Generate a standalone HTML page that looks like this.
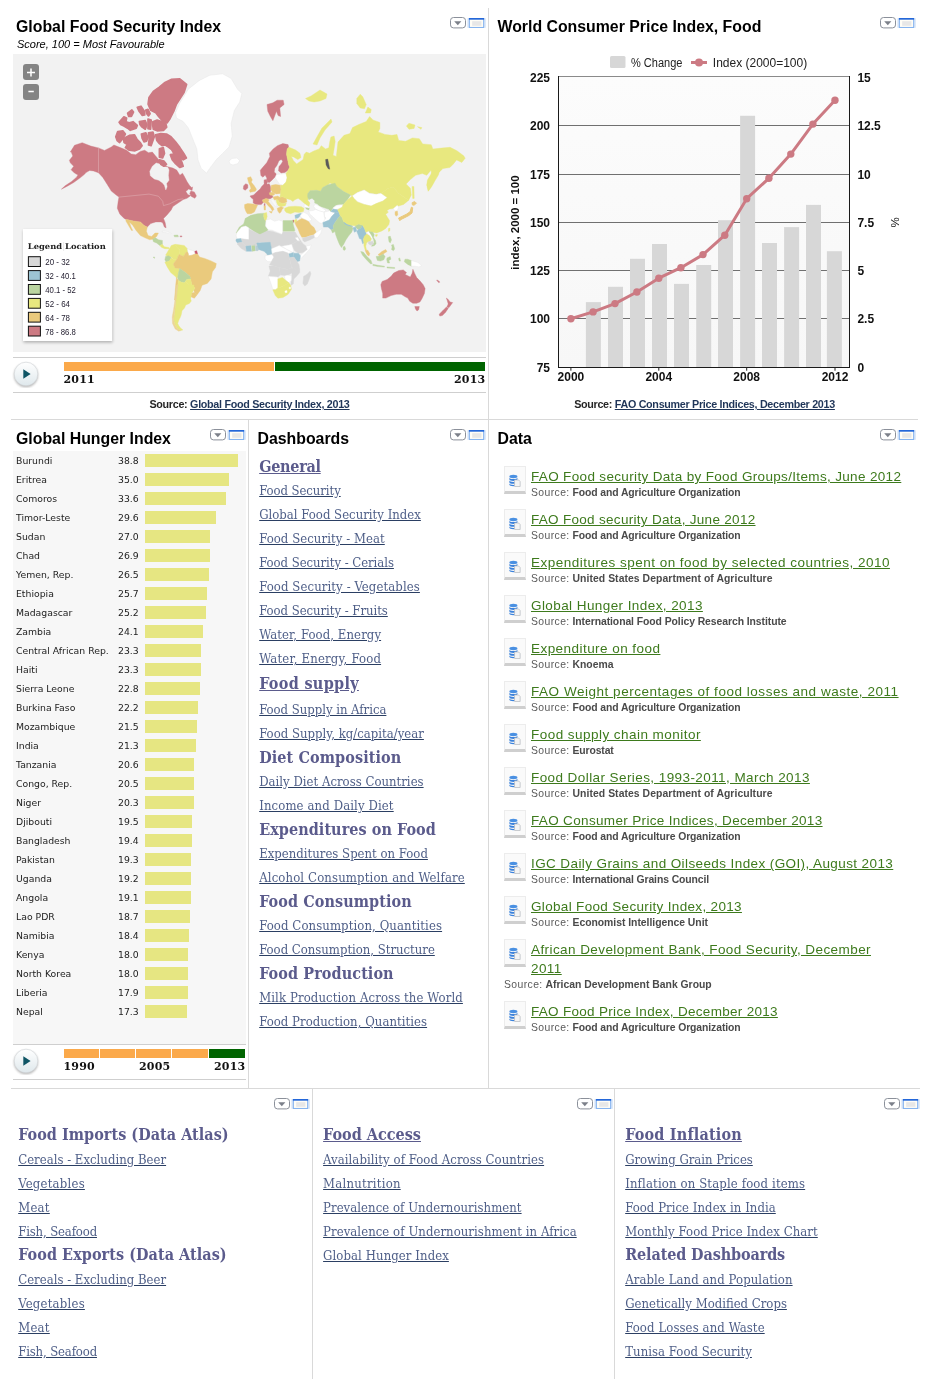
<!DOCTYPE html>
<html lang="en">
<head>
<meta charset="utf-8">
<title>Food Security</title>
<style>
html,body{margin:0;padding:0;background:#fff;}
body{width:935px;height:1379px;position:relative;overflow:hidden;font-family:"Liberation Sans",sans-serif;color:#000;}
.abs{position:absolute;}
.hl{position:absolute;height:1px;background:#d9d9d9;}
.vl{position:absolute;width:1px;background:#d9d9d9;}
.title{position:absolute;font:bold 15.85px "Liberation Sans",sans-serif;color:#000;white-space:nowrap;line-height:18px;}
.sub{position:absolute;font:italic 11px "Liberation Sans",sans-serif;white-space:nowrap;line-height:12px;}
.ico{position:absolute;width:37px;height:12px;}
.src{position:absolute;font:bold 10.75px "Liberation Sans",sans-serif;letter-spacing:-0.3px;color:#262626;white-space:nowrap;text-align:center;line-height:13px;}
.src a{color:#1f3558;text-decoration:underline;}
.play{position:absolute;width:24px;height:24px;}
.yr{position:absolute;font:bold 11px "DejaVu Serif",serif;color:#111;line-height:12px;white-space:nowrap;letter-spacing:0.2px;}
a{cursor:pointer;}
/* serif link lists */
.lst{position:absolute;font:13px "DejaVu Serif Condensed","DejaVu Serif",serif;font-stretch:condensed;color:#4b5a7e;word-spacing:0;}
.lst a{display:block;position:absolute;left:0;color:#4f5f88;text-decoration:underline;text-decoration-color:#2b3f63;text-underline-offset:1px;white-space:nowrap;line-height:16px;}
.lst .h{display:block;position:absolute;left:0;font:bold 16px "DejaVu Serif Condensed","DejaVu Serif",serif;font-stretch:condensed;color:#5b5b8c;white-space:nowrap;line-height:20px;word-spacing:0;}
.lst .h.u{text-decoration:underline;}
/* hunger rows */
.hrow{position:absolute;left:16px;height:19px;width:230px;font:9.3px "DejaVu Sans",sans-serif;color:#222;line-height:19px;white-space:nowrap;}
.hrow i{font-style:normal;position:absolute;left:102px;}
.hrow b{position:absolute;left:129px;top:3px;height:13px;background:#e6e682;}
/* data list */
.ditem{position:absolute;left:504px;width:410px;}
.ditem .bx{position:absolute;left:0;top:0;width:20px;height:24px;background:#fafafa;border:1px solid #ececec;border-bottom:3px solid #cfcfcf;}
.ditem a{position:absolute;left:27px;top:1px;font:13.5px "Liberation Sans",sans-serif;letter-spacing:0.34px;color:#3d7a1c;text-decoration:underline;white-space:nowrap;line-height:19px;}
.ditem span{position:absolute;left:27px;top:21px;font:10.4px "Liberation Sans",sans-serif;color:#555;white-space:nowrap;line-height:12px;}
.ditem span b{color:#4a4a4a;letter-spacing:-0.09px;}
.ditem span i{font-style:normal;letter-spacing:0.4px;color:#5a5a5a;}
</style>
</head>
<body>
<svg width="0" height="0" style="position:absolute"><defs>
<linearGradient id="pg" x1="0" y1="0" x2="0" y2="1"><stop offset="0" stop-color="#ffffff"/><stop offset="1" stop-color="#dfe8ec"/></linearGradient>
<filter id="psh" x="-30%" y="-30%" width="160%" height="160%"><feGaussianBlur stdDeviation="0.9"/></filter>
</defs></svg>
<!-- structural lines -->
<div class="vl" style="left:488px;top:8px;height:1080px;"></div>
<div class="vl" style="left:248px;top:420px;height:668px;"></div>
<div class="hl" style="left:11px;top:419px;width:907px;"></div>
<div class="hl" style="left:11px;top:1088px;width:909px;"></div>
<div class="vl" style="left:312px;top:1089px;height:290px;"></div>
<div class="vl" style="left:614px;top:1089px;height:290px;"></div>
<!-- Global Food Security Index panel -->
<div class="title" style="left:16px;top:18px;">Global Food Security Index</div>
<div class="sub" style="left:17px;top:38px;">Score, 100 = Most Favourable</div>
<svg class="ico" style="left:450px;top:17px;" viewBox="0 0 37 12"><rect x="0.5" y="0.5" width="15" height="10.4" rx="3" ry="3" fill="#fff" stroke="#8b909a" stroke-width="1"/><path d="M4.2 4.2 L11.4 4.2 L7.8 8.2 Z" fill="#7c808a"/><rect x="17.3" y="1.2" width="18.6" height="9.6" fill="#cfe0f7" opacity="0.75"/><rect x="19.3" y="1.5" width="14.400" height="8.9" fill="#fffdf6" stroke="#74a9ee" stroke-width="0.9"/><rect x="18.9" y="1" width="15.2" height="1.7" fill="#2467d9"/><rect x="22.2" y="4.2" width="9.2" height="4.6" fill="#e7e7e7"/></svg>
<div class="abs" id="mapbg" style="left:13px;top:54px;width:473px;height:298px;background:#f2f2f2;"></div>
<!--MAPSTART-->
<svg class="abs" style="left:13px;top:54px;" width="473" height="298" viewBox="13 54 473 298">
<g stroke-linejoin="round">
<polygon points="70.3,152.1 74.5,145.3 82.2,142.7 90.8,146.1 98.5,147.9 104.5,150.4 111.3,147.0 113.9,145.0 120.3,147.6 126.7,150.2 131.2,154.0 135.7,154.7 140.2,151.4 144.7,150.2 148.5,152.7 152.4,152.1 155.6,155.9 158.8,159.8 161.3,163.6 167.8,166.8 172.9,168.1 176.7,170.1 179.9,175.2 182.5,173.3 184.4,176.5 187.0,181.6 189.6,185.5 192.1,188.0 192.6,186.8 192.1,190.4 188.7,189.0 185.8,191.6 188.0,194.8 190.9,195.5 187.0,198.3 183.2,199.6 178.1,203.0 172.9,206.5 171.2,209.9 167.0,215.0 163.5,218.4 165.2,222.7 166.1,227.9 164.4,227.0 162.7,222.7 161.0,221.9 155.8,221.9 150.7,223.6 147.3,227.0 143.9,225.3 140.4,221.9 133.6,221.0 125.9,219.3 124.2,218.4 119.9,214.2 117.3,208.2 118.2,201.3 119.0,197.1 116.5,195.3 111.3,191.1 107.1,184.2 102.8,177.4 98.5,172.8 93.4,170.9 89.6,170.5 86.0,172.6 84.5,174.3 80.5,177.6 73.7,182.5 66.8,186.4 61.4,189.2 65.1,185.8 71.6,181.5 76.3,177.4 78.0,175.0 74.5,173.1 71.1,169.7 73.7,166.3 70.3,162.8 69.4,160.3 72.8,156.0 71.1,151.7" fill="#cd7a83" stroke="#cd7a83" stroke-width="0.4"/>
<polygon points="190.9,191.1 194.3,191.9 196.4,195.9 194.8,198.3 191.4,196.5 189.7,193.5" fill="#cd7a83" stroke="#cd7a83" stroke-width="0.4"/>
<polygon points="152.4,166.2 156.2,163.0 160.7,164.3 163.9,166.8 167.8,167.2 169.0,170.1 168.4,175.2 169.0,180.3 166.5,183.5 167.1,186.7 165.8,189.9 164.5,185.5 162.6,182.9 158.8,180.3 154.3,179.0 150.4,175.8 149.8,171.3" fill="#f2f2f2" stroke="#f2f2f2" stroke-width="0.4"/>
<polygon points="164.4,82.8 171.2,79.4 179.8,78.9 186.6,84.5 184.1,92.2 179.8,99.1 176.4,104.2 173.8,111.1 169.5,119.6 167.0,123.0 162.7,121.3 158.4,116.2 155.8,112.8 150.7,110.2 148.1,104.2 149.0,97.4 153.3,91.4 159.3,87.1" fill="#cd7a83" stroke="#cd7a83" stroke-width="1.7"/>
<polygon points="115.8,136.7 117.7,131.6 122.8,130.9 125.4,134.1 122.8,138.6 119.6,142.5 117.1,140.5" fill="#cd7a83" stroke="#cd7a83" stroke-width="1.7"/>
<polygon points="123.5,138.6 129.3,135.4 134.4,134.8 137.0,139.3 140.2,142.5 142.1,145.7 139.5,148.9 135.0,150.8 129.3,150.2 125.4,147.6 127.3,144.4 124.1,142.5" fill="#cd7a83" stroke="#cd7a83" stroke-width="1.7"/>
<polygon points="141.4,134.1 145.9,132.8 147.9,137.3 146.6,141.2 144.0,141.8 142.1,138.0" fill="#cd7a83" stroke="#cd7a83" stroke-width="1.7"/>
<polygon points="148.5,132.8 153.0,132.2 154.3,136.7 151.1,145.7 148.5,145.0 149.1,139.3" fill="#cd7a83" stroke="#cd7a83" stroke-width="1.7"/>
<polygon points="155.6,134.8 160.7,133.5 166.5,134.1 171.0,136.7 175.5,141.8 179.9,147.6 183.8,153.4 186.4,157.9 183.2,159.8 179.3,156.6 181.9,162.4 183.2,166.2 179.9,167.5 175.5,163.6 172.2,159.8 170.3,154.7 174.2,154.0 171.6,149.5 168.4,147.0 165.2,145.0 162.0,145.7 159.4,143.7 156.8,140.5" fill="#cd7a83" stroke="#cd7a83" stroke-width="1.7"/>
<polygon points="159.4,159.8 163.9,161.1 166.5,164.3 163.9,166.2 160.7,164.3" fill="#cd7a83" stroke="#cd7a83" stroke-width="1.7"/>
<polygon points="159.4,148.9 163.3,147.6 164.5,153.4 162.6,157.9 159.4,157.2" fill="#cd7a83" stroke="#cd7a83" stroke-width="1.7"/>
<polygon points="137.3,107.3 141.0,106.2 144.2,111.0 144.8,114.8 142.1,115.3 138.9,111.0" fill="#cd7a83" stroke="#cd7a83" stroke-width="1.7"/>
<polygon points="145.8,110.0 148.0,109.4 150.1,113.7 148.5,115.9 146.4,113.2" fill="#cd7a83" stroke="#cd7a83" stroke-width="1.7"/>
<polygon points="127.6,113.2 131.9,110.0 133.5,112.1 131.4,116.4 128.7,116.4" fill="#cd7a83" stroke="#cd7a83" stroke-width="1.7"/>
<polygon points="119.1,122.3 123.9,116.9 126.6,118.0 126.0,121.7 129.3,122.8 133.0,121.7 137.3,125.5 136.2,128.2 130.3,130.3 127.6,128.2 123.9,126.0 120.7,124.4" fill="#cd7a83" stroke="#cd7a83" stroke-width="1.7"/>
<polygon points="139.4,121.7 145.3,120.7 146.9,124.9 145.3,129.2 142.1,127.1 139.9,124.4" fill="#cd7a83" stroke="#cd7a83" stroke-width="1.7"/>
<polygon points="148.0,119.1 151.2,120.1 150.6,129.2 148.0,128.7" fill="#cd7a83" stroke="#cd7a83" stroke-width="1.7"/>
<polygon points="152.8,121.7 157.1,120.1 165.6,122.8 166.7,127.1 163.5,130.3 157.1,130.8 153.3,129.2 152.6,124.9" fill="#cd7a83" stroke="#cd7a83" stroke-width="1.7"/>
<polygon points="175.5,112.8 179.8,103.1 188.3,89.2 199.0,80.7 209.7,75.3 222.6,73.8 231.1,78.5 237.5,89.2 241.8,93.5 239.7,102.1 234.3,110.6 231.1,123.4 232.2,136.3 229.0,147.0 222.6,153.4 216.1,159.8 209.7,168.4 206.5,173.1 201.2,168.4 198.0,159.8 196.9,149.1 192.6,138.4 188.3,127.7 183.0,121.3 176.6,118.1" fill="#ffffff" stroke="#e4e4e4" stroke-width="0.4"/>
<polygon points="229.0,161.0 232.0,158.5 237.0,158.0 239.5,160.5 238.0,163.5 233.0,165.0 230.0,164.0" fill="#ffffff" stroke="#e4e4e4" stroke-width="0.4"/>
<polygon points="267.0,104.5 272.9,102.8 277.2,100.2 283.2,100.2 284.1,104.5 279.8,107.9 280.6,116.5 278.1,115.6 276.4,111.3 272.9,120.7 270.4,116.5 267.8,111.3" fill="#cd7a83" stroke="#cd7a83" stroke-width="0.4"/>
<polygon points="125.9,219.3 133.6,221.0 140.4,221.9 143.9,225.3 147.3,227.0 146.4,231.3 148.1,235.6 151.6,236.4 155.0,233.0 158.4,233.0 156.7,236.4 153.3,239.0 149.8,239.8 145.6,238.1 140.4,235.6 136.1,230.4 132.7,225.3 129.3,221.9 131.0,227.0 132.7,230.4 131.5,230.4 128.4,225.3 125.9,221.0" fill="#eaca7d" stroke="#eaca7d" stroke-width="0.4"/>
<polygon points="152.7,239.1 155.3,237.8 158.5,239.8 162.4,240.4 162.4,244.3 159.8,245.5 156.6,243.0 153.4,241.7" fill="#bbd5a0" stroke="#bbd5a0" stroke-width="0.4"/>
<polygon points="159.8,245.5 162.4,244.3 164.3,246.8 168.8,247.5 169.4,248.7 164.9,248.7 161.7,247.5" fill="#e8e87f" stroke="#e8e87f" stroke-width="0.4"/>
<polygon points="173.9,235.3 177.8,235.0 178.4,236.8 174.5,236.8" fill="#bbd5a0" stroke="#bbd5a0" stroke-width="0.4"/>
<polygon points="180.1,235.9 181.9,235.9 181.9,236.8 180.1,236.8" fill="#cd7a83" stroke="#cd7a83" stroke-width="0.4"/>
<polygon points="162.4,230.8 167.5,231.4 171.3,233.3 170.7,234.0 166.2,232.7 162.4,232.1" fill="#f9f9f9" stroke="#e6e6e6" stroke-width="0.4"/>
<polygon points="169.4,248.7 171.3,245.5 175.2,244.3 177.1,247.5 179.7,250.0 179.0,254.5 177.1,259.0 173.9,259.7 171.3,257.1 168.1,256.4 165.6,255.2 167.5,252.0" fill="#e8e87f" stroke="#e8e87f" stroke-width="0.4"/>
<polygon points="175.2,244.3 180.3,244.9 184.2,245.5 187.4,248.7 188.0,252.6 186.1,252.0 183.5,256.4 181.0,255.2 179.0,254.5 179.7,250.0 177.1,247.5" fill="#e8e87f" stroke="#e8e87f" stroke-width="0.4"/>
<polygon points="187.4,248.7 189.9,250.0 193.8,250.7 195.1,253.9 191.9,255.2 188.7,255.8 188.0,252.6" fill="#ffffff" stroke="#e4e4e4" stroke-width="0.4"/>
<polygon points="194.8,251.3 196.7,250.7 197.6,253.9 195.7,254.5" fill="#c8566a" stroke="#c8566a" stroke-width="0.4"/>
<polygon points="165.6,256.4 168.8,255.8 171.3,257.7 169.4,260.9 166.2,262.2 164.9,259.7" fill="#bbd5a0" stroke="#bbd5a0" stroke-width="0.4"/>
<polygon points="164.9,262.2 169.4,260.9 171.3,257.7 173.9,259.7 177.1,259.0 173.3,264.1 175.2,268.0 179.7,268.6 178.4,273.1 177.8,277.6 176.5,277.9 175.2,276.3 170.7,272.5 167.5,267.4" fill="#e8e87f" stroke="#e8e87f" stroke-width="0.4"/>
<polygon points="177.1,259.0 179.0,254.5 183.5,256.4 186.1,252.0 188.0,252.6 188.7,255.8 191.9,255.2 195.1,253.9 197.6,253.9 199.6,257.1 204.7,258.4 211.1,260.9 216.3,263.5 215.6,267.4 212.4,271.8 211.1,278.9 207.3,283.4 202.1,285.3 200.2,290.5 197.0,294.9 194.4,292.4 193.8,289.8 195.1,287.9 191.9,285.3 190.6,278.9 189.9,276.3 185.5,272.5 179.7,268.6 175.2,268.0 173.3,264.1" fill="#eaca7d" stroke="#eaca7d" stroke-width="0.4"/>
<polygon points="178.4,273.1 179.7,268.6 185.5,272.5 189.9,276.3 190.6,278.9 186.7,279.5 184.2,282.8 181.0,282.1 178.4,280.2 177.8,277.6" fill="#bbd5a0" stroke="#bbd5a0" stroke-width="0.4"/>
<polygon points="186.7,279.5 190.6,278.9 191.9,285.3 195.1,287.9 193.8,289.8 190.6,288.5 188.0,284.0 185.5,281.5" fill="#e8e87f" stroke="#e8e87f" stroke-width="0.4"/>
<polygon points="176.5,277.6 178.4,280.2 177.8,285.3 177.1,291.7 176.5,300.0 174.5,300.0 175.2,291.7 175.8,284.0" fill="#eaca7d" stroke="#eaca7d" stroke-width="0.4"/>
<polygon points="178.4,280.2 181.0,282.1 184.2,282.8 185.5,281.5 188.0,284.0 190.6,288.5 193.8,289.8 191.9,293.0 191.2,296.2 189.9,300.0 176.5,300.0 177.1,291.7 177.8,285.3" fill="#e8e87f" stroke="#e8e87f" stroke-width="0.4"/>
<polygon points="191.9,293.0 194.4,292.4 197.0,294.9 194.4,298.2 191.2,296.9" fill="#eaca7d" stroke="#eaca7d" stroke-width="0.4"/>
<polygon points="178.1,285.0 194.2,285.0 192.9,290.1 191.0,294.0 190.1,297.8 191.3,301.0 189.3,303.6 185.8,304.9 184.5,308.1 182.0,310.7 181.3,314.5 180.4,317.1 178.8,320.3 177.7,323.5 179.0,326.1 181.1,328.6 182.9,329.9 180.7,330.6 177.5,328.6 174.9,324.8 173.6,319.7 174.3,314.5 174.9,309.4 175.6,303.0 176.8,295.3 177.5,288.9" fill="#e8e87f" stroke="#e8e87f" stroke-width="0.4"/>
<polygon points="176.5,285.0 178.1,285.0 177.5,288.9 176.8,295.3 175.6,303.0 174.9,309.4 174.3,314.5 173.6,319.7 174.9,324.8 177.5,328.6 180.7,330.6 178.8,331.2 175.2,329.0 172.5,323.5 172.2,317.1 173.6,309.4 174.9,300.4 175.7,291.4" fill="#ecd596" stroke="#ecd596" stroke-width="0.4"/>
<polygon points="153.1,257.1 154.7,257.1 154.4,258.4" fill="#bbd5a0" stroke="#bbd5a0" stroke-width="0.4"/>
<polygon points="260.9,175.6 260.3,170.3 263.0,167.1 266.7,162.8 269.9,156.4 269.4,153.2 273.2,148.9 277.4,145.7 282.8,143.6 288.1,144.6 288.7,147.3 287.1,148.9 286.5,154.3 287.6,159.6 288.7,164.9 289.7,167.1 288.1,170.3 284.9,172.4 281.2,173.0 278.5,170.8 279.0,166.6 281.2,163.9 282.8,161.2 281.2,159.6 279.0,160.7 276.9,165.5 274.8,168.2 274.2,171.9 276.4,174.0 275.3,176.7 272.1,179.9 269.4,182.6 267.3,182.1 266.7,177.8 265.1,175.1 263.0,177.2" fill="#cd7a83" stroke="#cd7a83" stroke-width="0.4"/>
<polygon points="276.4,174.6 286.0,173.5 287.1,177.8 286.0,182.1 282.8,185.3 279.6,184.2 277.4,181.0 275.3,177.8" fill="#ffffff" stroke="#e8e8e8" stroke-width="0.4"/>
<polygon points="264.1,179.9 266.7,179.4 267.3,183.1 265.1,184.7 264.1,182.6" fill="#cd7a83" stroke="#cd7a83" stroke-width="0.4"/>
<polygon points="243.6,185.9 245.7,183.7 247.8,184.8 247.8,188.0 245.2,190.2 243.3,189.1" fill="#cd7a83" stroke="#cd7a83" stroke-width="0.4"/>
<polygon points="247.5,177.8 250.7,176.7 252.3,179.9 251.2,182.1 253.9,185.3 256.0,188.5 256.4,189.6 255.3,191.2 250.0,192.3 249.4,190.2 251.0,188.6 250.0,185.3 249.1,183.7 248.0,180.5" fill="#eaca7d" stroke="#eaca7d" stroke-width="0.4"/>
<polygon points="250.0,196.0 253.7,195.0 256.4,192.3 260.1,189.1 261.7,186.4 263.9,184.3 265.5,181.1 267.1,184.3 269.2,183.7 270.3,185.9 270.8,189.6 270.3,192.3 271.9,195.0 273.0,197.1 270.3,198.7 266.0,198.7 262.3,199.8 263.3,202.5 261.2,204.6 255.9,204.6 253.2,203.0 253.2,199.3 251.0,197.6" fill="#cd7a83" stroke="#cd7a83" stroke-width="0.4"/>
<polygon points="271.4,185.3 275.6,184.5 280.5,185.3 281.0,189.6 280.5,193.4 276.2,193.9 272.4,192.3 270.8,189.6" fill="#eaca7d" stroke="#eaca7d" stroke-width="0.4"/>
<polygon points="269.2,192.8 272.4,192.3 275.1,193.9 273.0,195.5 269.8,195.0" fill="#eaca7d" stroke="#eaca7d" stroke-width="0.4"/>
<polygon points="244.6,204.6 247.8,203.5 253.2,204.1 257.5,205.1 256.4,207.8 254.3,212.1 251.0,213.7 247.3,213.7 245.7,211.0 244.6,207.8" fill="#eaca7d" stroke="#eaca7d" stroke-width="0.4"/>
<polygon points="262.3,200.3 266.0,198.2 269.2,199.8 268.2,201.4 270.3,204.1 273.0,207.3 274.0,209.4 272.4,211.0 270.8,208.3 268.2,205.7 266.0,203.0 263.3,202.5" fill="#eaca7d" stroke="#eaca7d" stroke-width="0.4"/>
<polygon points="269.2,211.6 272.4,211.6 271.4,213.2" fill="#eaca7d" stroke="#eaca7d" stroke-width="0.4"/>
<polygon points="263.9,205.7 265.5,205.7 265.5,209.9 264.1,209.9" fill="#eaca7d" stroke="#eaca7d" stroke-width="0.4"/>
<polygon points="264.1,203.7 265.2,203.7 264.9,205.5 264.2,205.5" fill="#cd7a83" stroke="#cd7a83" stroke-width="0.4"/>
<polygon points="273.0,197.1 277.8,196.0 279.9,197.6 277.8,199.8 274.0,199.8" fill="#eaca7d" stroke="#eaca7d" stroke-width="0.4"/>
<polygon points="277.8,197.6 282.1,196.6 286.3,198.2 286.9,201.9 283.1,203.5 279.4,202.5 277.8,199.8" fill="#eaca7d" stroke="#eaca7d" stroke-width="0.4"/>
<polygon points="276.2,199.8 277.8,199.8 279.4,202.5 283.1,203.5 286.3,203.0 285.3,205.7 281.0,206.7 278.3,205.7 276.7,203.0" fill="#e8e87f" stroke="#e8e87f" stroke-width="0.4"/>
<polygon points="277.2,208.3 281.0,206.7 283.7,207.8 282.1,209.4 281.0,212.1 279.4,213.2 277.8,211.0" fill="#eaca7d" stroke="#eaca7d" stroke-width="0.4"/>
<polygon points="270.3,199.3 274.0,199.8 276.2,203.0 277.2,207.3 274.6,205.7 271.9,201.9" fill="#f8f8f8" stroke="#e6e6e6" stroke-width="0.4"/>
<polygon points="284.7,208.3 288.5,206.7 294.9,206.2 301.3,206.7 304.0,208.3 303.4,211.6 299.2,212.6 294.9,212.1 290.6,213.7 286.3,212.6 284.7,210.5" fill="#e8e87f" stroke="#e8e87f" stroke-width="0.4"/>
<polygon points="288.7,147.3 290.3,147.8 295.6,150.0 299.9,153.2 301.0,157.5 297.8,159.6 293.5,156.9 291.3,156.4 293.5,160.7 296.7,163.9 299.9,161.7 303.1,159.6 304.2,154.3 306.3,152.1 309.5,153.2 313.8,151.0 319.1,148.9 321.3,145.7 325.6,148.9 328.8,147.8 329.8,141.4 330.9,137.1 334.1,136.1 335.2,141.4 334.1,148.9 333.0,155.3 336.3,156.4 338.0,142.1 344.0,135.3 349.9,133.6 352.5,127.6 359.4,124.2 366.2,121.6 369.6,116.5 373.0,119.9 379.9,122.5 379.9,128.4 378.2,131.9 385.0,134.4 391.9,135.3 397.0,134.4 398.7,140.4 405.6,141.3 412.4,137.9 419.3,138.7 422.7,143.9 431.2,144.7 432.9,149.0 441.5,148.1 450.1,147.3 456.9,150.7 463.7,155.8 465.2,158.2 461.8,162.5 456.6,159.9 453.2,164.2 449.8,167.6 442.9,168.5 439.5,171.9 437.8,172.8 434.4,179.6 431.0,186.5 428.4,190.7 427.2,184.8 428.4,179.6 431.8,174.5 431.0,170.2 426.7,175.3 422.4,173.6 415.6,175.3 410.4,179.6 406.1,183.9 410.4,188.2 411.3,195.0 408.7,200.2 403.6,196.7 398.4,193.3 393.3,187.3 388.2,188.2 381.3,193.3 376.2,194.2 369.4,193.3 364.2,189.9 357.4,192.5 352.2,195.9 350.5,195.0 343.7,191.6 336.8,186.5 330.0,183.0 328.0,184.8 322.7,187.5 320.6,191.2 316.3,190.2 309.9,190.7 307.7,193.9 308.8,197.1 307.7,200.3 309.9,203.0 308.8,206.7 304.5,203.5 300.2,199.8 298.1,198.2 294.9,199.8 292.8,201.4 290.6,199.8 286.9,198.7 282.1,196.6 279.9,197.6 280.5,193.4 281.0,189.6 281.0,185.3 282.8,185.3 286.0,182.1 287.1,177.8 286.0,173.5 288.1,170.3 289.7,167.1 288.7,164.9 287.6,159.6 286.5,154.3 287.1,148.9" fill="#e8e87f" stroke="#e8e87f" stroke-width="0.4"/>
<polygon points="325.6,159.6 327.7,159.1 329.8,169.2 328.2,168.7 326.1,164.9" fill="#5a5a5a" stroke="#5a5a5a" stroke-width="0.4"/>
<polygon points="313.0,144.0 318.0,135.0 322.0,128.0 331.0,119.0 332.0,122.0 325.0,130.0 320.0,138.0 317.0,145.0" fill="#e8e87f" stroke="#e8e87f" stroke-width="0.4"/>
<polygon points="305.5,98.5 311.0,96.0 320.0,90.0 327.0,94.0 326.0,98.5 320.0,101.0 314.0,102.0 309.0,101.0" fill="#e8e87f" stroke="#e8e87f" stroke-width="0.4"/>
<polygon points="356.8,98.5 360.2,94.2 362.8,96.8 366.2,104.5 364.5,108.8 360.2,107.9 356.8,103.6" fill="#e8e87f" stroke="#e8e87f" stroke-width="0.4"/>
<polygon points="365.3,113.0 367.9,107.1 371.3,109.6 370.5,113.0" fill="#e8e87f" stroke="#e8e87f" stroke-width="0.4"/>
<polygon points="406.4,125.9 409.0,123.3 415.0,125.0 414.1,128.4 409.0,129.3" fill="#e8e87f" stroke="#e8e87f" stroke-width="0.4"/>
<polygon points="417.5,126.7 421.8,127.6 421.0,129.3" fill="#e8e87f" stroke="#e8e87f" stroke-width="0.4"/>
<polygon points="412.1,186.5 413.9,186.5 414.2,198.4 412.7,198.4" fill="#e8e87f" stroke="#e8e87f" stroke-width="0.4"/>
<polygon points="436.4,168.0 439.5,171.1 438.5,174.8 435.1,180.5 431.6,186.8 428.2,191.3 426.7,185.1 427.5,180.0 430.6,174.8 432.7,170.7" fill="#e8e87f" stroke="#e8e87f" stroke-width="0.4"/>
<polygon points="309.9,190.7 316.3,190.2 320.6,191.2 322.7,187.5 328.0,184.8 335.0,183.2 336.8,186.5 343.7,191.6 350.5,195.0 347.1,200.2 342.8,205.3 339.5,204.6 335.7,205.3 333.1,207.8 330.5,211.7 328.0,209.1 322.8,207.2 319.5,206.2 317.4,204.1 314.7,203.0 314.7,200.3 314.1,200.3 312.0,198.2 308.8,199.8 307.7,197.1 307.7,193.9" fill="#bbd5a0" stroke="#bbd5a0" stroke-width="0.4"/>
<polygon points="333.1,207.8 337.0,205.3 343.4,204.6 342.1,207.2 337.6,209.1 334.4,209.8" fill="#ffffff" stroke="#e6e6e6" stroke-width="0.4"/>
<polygon points="330.5,211.7 333.1,209.1 337.6,209.8 338.9,212.3 335.0,213.0 332.5,213.0" fill="#9cc4d3" stroke="#9cc4d3" stroke-width="0.4"/>
<polygon points="313.6,206.2 315.2,204.1 319.5,206.2 322.7,208.3 325.9,210.5 323.8,212.1 319.5,211.0 315.7,209.4" fill="#ffffff" stroke="#e6e6e6" stroke-width="0.4"/>
<polygon points="305.6,207.3 309.3,208.3 308.8,209.9 306.1,208.9" fill="#bbd5a0" stroke="#bbd5a0" stroke-width="0.4"/>
<polygon points="304.5,204.1 308.8,206.7 309.9,208.0 305.6,207.3 304.0,206.7" fill="#ffffff" stroke="#e6e6e6" stroke-width="0.4"/>
<polygon points="308.8,211.0 313.1,210.5 315.7,209.4 319.5,211.0 323.8,212.1 324.3,216.4 325.4,220.6 327.0,222.8 323.8,223.9 319.5,222.8 316.3,220.1 313.1,216.9 309.9,214.2" fill="#ffffff" stroke="#e6e6e6" stroke-width="0.4"/>
<polygon points="324.3,212.1 329.1,211.0 328.0,209.1 330.5,211.7 335.0,213.0 331.8,216.2 329.3,220.0 324.8,222.0 322.8,222.6 325.9,218.0 324.6,216.4" fill="#ffffff" stroke="#e6e6e6" stroke-width="0.4"/>
<polygon points="294.9,215.3 299.2,213.7 301.3,213.2 300.2,215.8 298.1,218.0 295.4,218.5" fill="#9cc4d3" stroke="#9cc4d3" stroke-width="0.4"/>
<polygon points="300.2,215.8 303.4,212.1 307.7,214.2 309.9,217.4 312.0,220.1 308.8,221.2 305.6,219.6 301.8,218.0" fill="#ffffff" stroke="#e6e6e6" stroke-width="0.4"/>
<polygon points="292.8,220.1 293.6,220.1 293.6,222.2 293.0,222.2" fill="#b9485e" stroke="#b9485e" stroke-width="0.4"/>
<polygon points="293.8,220.6 296.5,219.0 297.0,221.2 294.9,222.8" fill="#e8e87f" stroke="#e8e87f" stroke-width="0.4"/>
<polygon points="294.9,222.8 298.1,220.6 301.8,218.5 305.6,220.1 308.8,221.7 310.9,224.9 314.1,227.6 316.3,232.4 314.1,234.5 309.9,235.6 305.6,237.2 301.8,237.2 299.7,233.5 298.1,229.2 296.0,225.5" fill="#eaca7d" stroke="#eaca7d" stroke-width="0.4"/>
<polygon points="302.4,238.3 309.9,236.1 314.1,235.1 315.2,237.2 309.9,239.9 304.5,242.0 302.9,240.4" fill="#d8d8d8" stroke="#d8d8d8" stroke-width="0.4"/>
<polygon points="316.3,232.4 319.5,230.3 322.2,228.7 320.6,233.5 317.4,237.8 314.7,237.8 314.1,234.5" fill="#ffffff" stroke="#e6e6e6" stroke-width="0.4"/>
<polygon points="322.8,222.6 329.3,220.0 331.8,216.2 335.0,213.0 338.9,212.3 340.2,215.5 337.6,218.7 335.0,222.6 333.1,225.8 333.7,229.0 331.2,229.7 328.0,227.1 323.5,227.1" fill="#9cc4d3" stroke="#9cc4d3" stroke-width="0.4"/>
<polygon points="333.7,229.0 333.1,225.8 335.0,222.6 337.6,218.7 340.2,215.5 342.1,217.5 343.4,221.3 347.2,223.9 351.1,225.2 353.0,228.4 351.7,232.2 348.5,236.1 345.9,239.9 343.6,244.4 341.4,247.6 339.5,244.4 337.6,239.9 335.7,234.8 335.0,231.6 332.5,232.9 331.2,229.7" fill="#bbd5a0" stroke="#bbd5a0" stroke-width="0.4"/>
<polygon points="354.9,225.8 358.8,223.9 362.6,225.2 361.3,227.7 358.1,229.7 356.2,227.7" fill="#bbd5a0" stroke="#bbd5a0" stroke-width="0.4"/>
<polygon points="344.0,222.0 347.2,223.9 351.1,225.2 353.0,226.4 348.5,225.8 344.7,223.9" fill="#9cc4d3" stroke="#9cc4d3" stroke-width="0.4"/>
<polygon points="353.0,227.7 355.6,227.1 356.8,230.9 354.3,232.2" fill="#9cc4d3" stroke="#9cc4d3" stroke-width="0.4"/>
<polygon points="358.1,229.7 361.3,227.7 362.6,225.2 364.5,228.4 365.8,232.2 366.5,235.4 364.5,237.4 363.3,239.3 363.9,243.1 362.6,243.8 361.3,239.3 359.4,238.6 358.1,234.8 356.8,231.6" fill="#9cc4d3" stroke="#9cc4d3" stroke-width="0.4"/>
<polygon points="343.1,247.0 344.7,246.3 345.7,248.9 344.4,250.4 343.1,249.5" fill="#bbd5a0" stroke="#bbd5a0" stroke-width="0.4"/>
<polygon points="352.2,195.9 357.4,192.5 364.2,189.9 369.4,193.3 376.2,194.2 381.3,193.3 387.3,197.6 383.0,201.0 376.2,203.6 371.1,206.1 364.2,204.4 357.4,201.9 354.0,198.4" fill="#ffffff" stroke="#e6e6e6" stroke-width="0.4"/>
<polygon points="342.8,205.3 347.1,200.2 352.2,195.9 354.0,198.4 357.4,201.9 364.2,204.4 371.1,206.1 376.2,203.6 383.0,201.0 387.3,197.6 381.3,193.3 388.2,188.2 393.3,187.3 398.4,193.3 403.6,196.7 408.7,200.2 403.6,204.4 398.4,206.1 395.0,207.9 393.4,208.5 389.6,209.1 387.0,210.4 388.3,212.3 385.7,214.3 387.6,217.5 389.6,220.7 388.9,224.5 385.7,228.4 381.9,230.9 376.7,232.9 372.9,232.2 369.0,231.6 365.8,232.2 364.5,228.4 362.6,225.2 358.8,223.9 354.9,225.8 351.1,225.2 347.2,223.9 343.4,221.3 342.1,217.5 340.2,215.5 338.9,212.3 337.6,209.8 342.1,207.2 343.4,204.6" fill="#e8e87f" stroke="#e8e87f" stroke-width="0.4"/>
<polygon points="388.5,228.6 389.8,228.1 389.8,230.9 388.5,231.6" fill="#e8e87f" stroke="#e8e87f" stroke-width="0.4"/>
<polygon points="375.5,234.8 377.4,234.5 377.0,236.3 375.7,236.3" fill="#e8e87f" stroke="#e8e87f" stroke-width="0.4"/>
<polygon points="393.4,208.5 397.3,205.3 398.6,207.2 397.3,210.4 394.7,211.0" fill="#ffffff" stroke="#e6e6e6" stroke-width="0.4"/>
<polygon points="395.1,211.7 397.3,211.0 397.9,214.9 396.0,216.2 395.0,214.3" fill="#eaca7d" stroke="#eaca7d" stroke-width="0.4"/>
<polygon points="398.6,218.1 402.4,216.2 406.3,214.3 410.1,211.7 411.4,207.2 412.7,207.8 412.0,213.0 408.8,215.5 405.0,217.5 401.1,219.4 399.8,220.7" fill="#eaca7d" stroke="#eaca7d" stroke-width="1.0"/>
<polygon points="412.0,202.7 414.6,201.4 416.5,203.3 414.0,205.3 412.4,205.0" fill="#eaca7d" stroke="#eaca7d" stroke-width="0.8"/>
<polygon points="363.3,239.3 364.5,236.1 366.5,234.1 369.7,235.4 371.6,238.6 370.3,241.2 367.8,241.8 366.5,243.1 365.8,246.3 366.5,250.2 365.2,250.2 363.9,245.7 363.9,243.1" fill="#e8e87f" stroke="#e8e87f" stroke-width="0.4"/>
<polygon points="366.5,232.2 369.0,231.6 371.6,234.8 373.5,238.6 371.6,238.6 369.7,235.4 367.8,234.1" fill="#ffffff" stroke="#e6e6e6" stroke-width="0.4"/>
<polygon points="369.0,231.6 372.9,232.2 374.2,234.8 373.5,237.4 375.5,240.6 376.1,243.8 374.2,245.7 371.6,246.3 372.2,244.4 374.2,242.5 373.5,239.3 371.6,235.4" fill="#bbd5a0" stroke="#bbd5a0" stroke-width="0.4"/>
<polygon points="368.4,241.8 372.9,241.2 373.5,244.4 370.3,245.1 368.4,243.8" fill="#d8d8d8" stroke="#d8d8d8" stroke-width="0.4"/>
<polygon points="365.2,250.2 367.8,250.2 369.7,253.4 369.0,256.0 367.1,254.7 365.8,252.1" fill="#eaca7d" stroke="#eaca7d" stroke-width="0.4"/>
<polygon points="378.0,254.7 381.9,251.5 385.7,249.5 387.0,251.5 383.2,254.0 379.9,256.0" fill="#eaca7d" stroke="#eaca7d" stroke-width="0.4"/>
<polygon points="360.7,251.5 363.3,252.1 367.1,256.6 371.0,260.5 372.2,263.7 370.3,263.7 366.5,259.8 362.6,255.3" fill="#bbd5a0" stroke="#bbd5a0" stroke-width="0.4"/>
<polygon points="376.1,256.6 379.9,256.0 383.2,254.0 385.1,256.6 383.8,259.8 380.6,261.1 377.4,260.5" fill="#bbd5a0" stroke="#bbd5a0" stroke-width="0.4"/>
<polygon points="372.9,264.3 378.0,265.3 384.4,266.2 384.4,267.1 378.0,266.6 372.9,265.6" fill="#bbd5a0" stroke="#bbd5a0" stroke-width="0.4"/>
<polygon points="387.0,257.9 390.2,256.6 390.9,259.2 388.9,260.5 389.6,263.0 387.6,263.0 386.7,259.8" fill="#bbd5a0" stroke="#bbd5a0" stroke-width="0.4"/>
<polygon points="387.0,266.9 394.7,267.5 394.7,268.4 387.0,267.9" fill="#bbd5a0" stroke="#bbd5a0" stroke-width="0.4"/>
<polygon points="398.6,258.5 399.8,257.9 400.5,261.1 399.2,261.1" fill="#bbd5a0" stroke="#bbd5a0" stroke-width="0.4"/>
<polygon points="407.5,259.2 411.4,260.5 411.4,266.2 407.5,264.3 404.3,261.7 405.0,259.2" fill="#bbd5a0" stroke="#bbd5a0" stroke-width="0.4"/>
<polygon points="411.4,260.5 417.8,262.4 421.7,265.6 419.1,266.9 415.2,266.2 411.4,266.2" fill="#ffffff" stroke="#e6e6e6" stroke-width="0.4"/>
<polygon points="388.3,236.7 390.2,236.1 391.5,239.9 390.2,243.1 388.9,241.2" fill="#bbd5a0" stroke="#bbd5a0" stroke-width="0.4"/>
<polygon points="391.5,245.1 393.4,244.4 394.7,248.9 393.4,250.8 391.5,249.5 392.1,247.0" fill="#bbd5a0" stroke="#bbd5a0" stroke-width="0.4"/>
<polygon points="380.8,284.7 382.1,281.4 387.2,279.5 391.1,276.3 393.6,273.1 398.8,270.5 403.3,269.9 406.5,272.5 405.2,274.4 410.3,277.0 412.2,273.1 412.9,269.3 414.8,273.7 416.7,277.6 419.9,280.8 423.2,284.7 425.1,288.5 424.4,293.6 421.9,298.8 419.9,302.0 416.7,303.3 412.9,303.3 409.7,301.3 407.8,298.1 405.2,296.8 401.3,294.3 396.2,294.3 391.1,295.6 385.9,298.1 382.7,298.1 382.7,293.6 381.4,288.5" fill="#cd7a83" stroke="#cd7a83" stroke-width="0.4"/>
<polygon points="414.8,306.5 419.3,306.5 418.7,309.7 417.0,311.0 415.5,309.0" fill="#cd7a83" stroke="#cd7a83" stroke-width="0.4"/>
<polygon points="446.3,298.1 448.2,299.4 450.1,302.0 452.7,302.6 450.7,305.2 448.8,307.8 446.9,307.1 448.2,303.9 447.3,300.7" fill="#cd7a83" stroke="#cd7a83" stroke-width="0.4"/>
<polygon points="446.3,307.1 448.2,308.4 445.6,312.2 442.4,315.5 439.8,316.1 439.2,314.2 442.4,311.0 445.0,308.4" fill="#cd7a83" stroke="#cd7a83" stroke-width="0.4"/>
<polygon points="436.6,280.2 437.9,280.2 439.8,282.1 438.8,282.7" fill="#cd7a83" stroke="#cd7a83" stroke-width="0.4"/>
<polygon points="236.1,232.9 239.3,227.1 243.6,223.9 245.2,219.0 251.0,215.8 249.4,220.6 246.8,225.5 242.5,227.1 239.3,230.3 237.7,233.5" fill="#bbd5a0" stroke="#bbd5a0" stroke-width="0.4"/>
<polygon points="245.2,218.5 251.0,215.3 257.5,213.7 263.9,213.2 263.7,216.4 264.4,219.0 266.0,221.2 265.5,226.0 268.2,229.7 266.0,231.9 260.1,235.1 256.4,232.9 251.0,229.2 245.7,226.0" fill="#bbd5a0" stroke="#bbd5a0" stroke-width="0.4"/>
<polygon points="263.9,213.2 266.6,212.6 267.1,216.4 266.0,221.2 264.4,219.0 263.7,216.4" fill="#e8e87f" stroke="#e8e87f" stroke-width="0.4"/>
<polygon points="266.0,220.1 270.3,219.0 274.6,221.2 278.9,220.1 282.6,221.2 282.6,234.5 278.9,232.9 272.4,230.3 268.2,229.7 265.5,226.0" fill="#ffffff" stroke="#e6e6e6" stroke-width="0.4"/>
<polygon points="283.1,220.6 292.8,220.6 293.3,224.9 294.9,230.3 294.4,231.3 283.1,231.3" fill="#bbd5a0" stroke="#bbd5a0" stroke-width="0.4"/>
<polygon points="236.6,232.9 241.4,227.1 245.7,226.0 248.4,227.6 249.0,228.9 249.0,239.8 237.5,239.8 236.2,235.9" fill="#ffffff" stroke="#e6e6e6" stroke-width="0.4"/>
<polygon points="249.0,228.9 259.9,234.6 267.6,230.8 272.8,231.4 281.7,234.6 283.0,232.1 295.2,232.1 297.1,235.3 299.7,239.1 302.3,243.0 297.1,241.0 292.0,244.3 288.8,244.9 281.7,246.2 279.2,245.5 275.3,248.1 271.5,248.7 270.2,243.0 258.6,242.3 257.4,245.5 250.9,244.9 245.8,246.2 242.0,242.3 240.7,238.5 249.0,239.8" fill="#d8d8d8" stroke="#d8d8d8" stroke-width="0.4"/>
<polygon points="236.2,239.1 240.7,238.5 242.0,242.3 237.5,243.0 235.9,241.0" fill="#9cc4d3" stroke="#9cc4d3" stroke-width="0.4"/>
<polygon points="237.5,243.0 242.0,242.3 245.8,246.2 245.8,251.3 240.7,248.1 237.5,244.3" fill="#d8d8d8" stroke="#d8d8d8" stroke-width="0.4"/>
<polygon points="245.8,246.2 250.9,245.5 251.6,251.3 246.4,251.3" fill="#9cc4d3" stroke="#9cc4d3" stroke-width="0.4"/>
<polygon points="251.6,245.5 254.8,244.9 255.4,250.7 252.2,251.3" fill="#bbd5a0" stroke="#bbd5a0" stroke-width="0.4"/>
<polygon points="255.4,245.5 258.0,245.5 258.6,249.4 258.0,250.7 255.8,250.7" fill="#b7cdd4" stroke="#b7cdd4" stroke-width="0.4"/>
<polygon points="250.9,244.9 257.4,245.5 258.6,242.3 256.7,243.0 254.8,244.9" fill="#d8d8d8" stroke="#d8d8d8" stroke-width="0.4"/>
<polygon points="256.7,243.0 270.2,242.3 271.5,248.7 268.9,250.7 265.7,252.6 263.8,251.3 258.6,249.4" fill="#9cc4d3" stroke="#9cc4d3" stroke-width="0.4"/>
<polygon points="265.7,250.0 271.5,248.7 272.1,254.5 267.6,255.2 265.7,252.6" fill="#9cc4d3" stroke="#9cc4d3" stroke-width="0.4"/>
<polygon points="271.5,248.7 279.2,245.5 286.9,249.4 293.3,252.6 288.2,253.2 283.0,251.3 275.3,252.6 272.1,253.9" fill="#ffffff" stroke="#e6e6e6" stroke-width="0.4"/>
<polygon points="281.7,246.2 288.8,244.9 292.0,244.3 293.3,249.4 293.3,252.6 286.9,249.4" fill="#ffffff" stroke="#e6e6e6" stroke-width="0.4"/>
<polygon points="292.0,244.3 297.1,241.0 302.3,243.0 306.1,246.2 307.4,249.4 303.6,252.6 298.4,253.2 294.6,250.7 293.3,248.1" fill="#d8d8d8" stroke="#d8d8d8" stroke-width="0.4"/>
<polygon points="306.1,246.2 311.3,244.9 310.0,248.7 304.8,254.5 301.0,258.4 300.3,255.2 303.6,252.6 307.4,249.4" fill="#ffffff" stroke="#e6e6e6" stroke-width="0.4"/>
<polygon points="295.2,237.8 297.8,237.2 299.7,241.0 297.1,240.4" fill="#ffffff" stroke="#e6e6e6" stroke-width="0.4"/>
<polygon points="288.8,253.9 293.3,252.6 293.9,257.1 289.4,257.7" fill="#9cc4d3" stroke="#9cc4d3" stroke-width="0.4"/>
<polygon points="293.9,253.2 298.4,253.2 300.3,255.8 299.7,260.9 297.1,261.6 293.9,257.1" fill="#9cc4d3" stroke="#9cc4d3" stroke-width="0.4"/>
<polygon points="265.1,255.8 272.1,254.5 274.0,257.1 271.5,261.6 267.6,261.6 265.1,259.0" fill="#ffffff" stroke="#e6e6e6" stroke-width="0.4"/>
<polygon points="272.1,253.9 275.3,252.6 283.0,251.3 288.2,253.2 289.4,257.7 290.7,263.5 292.0,268.6 286.9,269.3 279.2,267.4 274.0,266.1 269.5,264.8 271.5,261.6 274.0,257.1" fill="#d8d8d8" stroke="#d8d8d8" stroke-width="0.4"/>
<polygon points="289.4,257.7 293.9,257.1 297.1,261.6 299.1,264.8 299.7,269.3 293.3,269.9 291.4,266.1" fill="#d8d8d8" stroke="#d8d8d8" stroke-width="0.4"/>
<polygon points="268.9,266.1 274.0,266.1 279.2,267.4 280.5,275.1 277.9,277.0 268.3,276.3 270.2,271.2" fill="#d8d8d8" stroke="#d8d8d8" stroke-width="0.4"/>
<polygon points="279.2,267.4 286.9,269.3 292.0,268.6 292.0,273.1 286.9,275.7 280.5,275.1" fill="#d8d8d8" stroke="#d8d8d8" stroke-width="0.4"/>
<polygon points="292.0,268.6 299.7,269.3 299.7,272.5 297.1,275.7 293.9,278.9 293.3,284.0 290.7,285.3 291.4,278.9 292.0,273.1" fill="#d8d8d8" stroke="#d8d8d8" stroke-width="0.4"/>
<polygon points="284.3,276.3 286.9,275.1 291.4,275.7 291.4,280.2 288.8,282.8 285.6,280.2" fill="#ffffff" stroke="#e6e6e6" stroke-width="0.4"/>
<polygon points="268.3,276.3 277.9,277.0 277.9,287.9 275.3,289.8 272.8,289.2 270.8,282.8" fill="#ffffff" stroke="#e6e6e6" stroke-width="0.4"/>
<polygon points="277.9,278.9 282.4,277.6 285.6,280.2 288.8,282.8 284.9,285.3 280.5,287.2 277.9,287.9" fill="#e8e87f" stroke="#e8e87f" stroke-width="0.4"/>
<polygon points="272.8,289.8 275.3,289.8 277.9,287.9 280.5,287.2 284.9,285.3 288.8,282.8 290.7,285.3 291.4,289.2 288.2,294.3 283.0,297.5 277.9,298.2 275.3,295.6" fill="#e8e87f" stroke="#e8e87f" stroke-width="0.4"/>
<polygon points="284.9,291.1 286.9,290.5 287.1,292.4 285.3,292.8" fill="#ffffff" stroke="#ffffff" stroke-width="0.4"/>
<polygon points="289.2,287.2 290.5,287.2 290.5,288.8 289.2,288.8" fill="#ffffff" stroke="#ffffff" stroke-width="0.4"/>
<polygon points="303.6,276.3 306.8,274.4 310.0,271.2 311.0,273.8 309.3,278.9 307.4,284.0 304.8,286.0 302.9,283.4" fill="#d8d8d8" stroke="#d8d8d8" stroke-width="0.4"/>
<polyline points="119.0,197.1 149.0,194.1 158.4,196.2 162.7,201.3 163.5,205.6 169.5,203.9 178.1,199.6 183.2,198.8" fill="none" stroke="#e3b4b9" stroke-width="0.5"/>
<polyline points="98.5,147.4 98.5,172.2" fill="none" stroke="#e3b4b9" stroke-width="0.5"/>
</g>
<rect x="23" y="64" width="16" height="16" rx="3" fill="#848484"/><rect x="23" y="84" width="16" height="16" rx="3" fill="#848484"/>
<path d="M27 72.6h8M31 68.6v8M28.4 91.6h5.4" stroke="#fff" stroke-width="1.5" fill="none"/>
<defs><filter id="lsh" x="-20%" y="-20%" width="140%" height="140%"><feGaussianBlur stdDeviation="1.6"/></filter></defs>
<rect x="23.5" y="230.5" width="89" height="112" fill="#000" opacity="0.28" filter="url(#lsh)"/>
<rect x="23" y="229" width="89.2" height="112" fill="#fff"/>
<text x="27.8" y="248.8" font-family="DejaVu Serif, serif" font-weight="bold" font-size="7.8" fill="#222" textLength="78" lengthAdjust="spacingAndGlyphs">Legend Location</text>
<line x1="63.6" y1="242" x2="63.6" y2="251" stroke="#ddd" stroke-width="0.6"/>
<rect x="28.4" y="256.7" width="12" height="9.8" fill="#d8d8d8" stroke="#111" stroke-width="1"/>
<text x="45.3" y="265.4" font-family="Liberation Sans, sans-serif" font-size="8.3" fill="#262233" textLength="24.7" lengthAdjust="spacingAndGlyphs">20 - 32</text>
<rect x="28.4" y="270.6" width="12" height="9.8" fill="#9cc4d3" stroke="#111" stroke-width="1"/>
<text x="45.3" y="279.3" font-family="Liberation Sans, sans-serif" font-size="8.3" fill="#262233" textLength="30.6" lengthAdjust="spacingAndGlyphs">32 - 40.1</text>
<rect x="28.4" y="284.5" width="12" height="9.8" fill="#bbd5a0" stroke="#111" stroke-width="1"/>
<text x="45.3" y="293.2" font-family="Liberation Sans, sans-serif" font-size="8.3" fill="#262233" textLength="30.6" lengthAdjust="spacingAndGlyphs">40.1 - 52</text>
<rect x="28.4" y="298.4" width="12" height="9.8" fill="#e8e87f" stroke="#111" stroke-width="1"/>
<text x="45.3" y="307.1" font-family="Liberation Sans, sans-serif" font-size="8.3" fill="#262233" textLength="24.7" lengthAdjust="spacingAndGlyphs">52 - 64</text>
<rect x="28.4" y="312.3" width="12" height="9.8" fill="#eaca7d" stroke="#111" stroke-width="1"/>
<text x="45.3" y="321.0" font-family="Liberation Sans, sans-serif" font-size="8.3" fill="#262233" textLength="24.7" lengthAdjust="spacingAndGlyphs">64 - 78</text>
<rect x="28.4" y="326.2" width="12" height="9.8" fill="#cd7a83" stroke="#111" stroke-width="1"/>
<text x="45.3" y="334.9" font-family="Liberation Sans, sans-serif" font-size="8.3" fill="#262233" textLength="30.6" lengthAdjust="spacingAndGlyphs">78 - 86.8</text>
</svg>
<!--MAPEND-->
<div class="hl" style="left:13px;top:357px;width:473px;background:#cfcfcf;"></div>
<svg class="play" style="left:12px;top:359.8px;width:28px;height:28px;" viewBox="0 0 28 28"><circle cx="14" cy="15.2" r="12" fill="#7d7d7d" opacity="0.55" filter="url(#psh)"/><circle cx="14" cy="14" r="11.8" fill="url(#pg)" stroke="#d0d4d6" stroke-width="0.6"/><path d="M11.3 9.2 L18.6 14 L11.3 18.8 Z" fill="#0f5565"/></svg>
<div class="abs" style="left:64px;top:362px;width:210px;height:9px;background:#fba94a;"></div>
<div class="abs" style="left:275px;top:362px;width:210px;height:9px;background:#006400;"></div>
<div class="yr" style="left:63.5px;top:374px;">2011</div>
<div class="yr" style="left:454px;top:374px;">2013</div>
<div class="hl" style="left:13px;top:392px;width:473px;background:#cfcfcf;"></div>
<div class="src" style="left:13px;top:398px;width:473px;">Source: <a>Global Food Security Index, 2013</a></div>
<!-- World Consumer Price Index chart -->
<div class="title" style="left:497.5px;top:18px;">World Consumer Price Index, Food</div>
<svg class="ico" style="left:880px;top:17px;" viewBox="0 0 37 12"><rect x="0.5" y="0.5" width="15" height="10.4" rx="3" ry="3" fill="#fff" stroke="#8b909a" stroke-width="1"/><path d="M4.2 4.2 L11.4 4.2 L7.8 8.2 Z" fill="#7c808a"/><rect x="17.3" y="1.2" width="18.6" height="9.6" fill="#cfe0f7" opacity="0.75"/><rect x="19.3" y="1.5" width="14.400" height="8.9" fill="#fffdf6" stroke="#74a9ee" stroke-width="0.9"/><rect x="18.9" y="1" width="15.2" height="1.7" fill="#2467d9"/><rect x="22.2" y="4.2" width="9.2" height="4.6" fill="#e7e7e7"/></svg>
<svg class="abs" style="left:489px;top:45px;" width="430" height="350" viewBox="489 45 430 350" font-family="Liberation Sans, sans-serif">
<defs><linearGradient id="plotbg" x1="0" y1="0" x2="0" y2="1"><stop offset="0" stop-color="#fcfcfc"/><stop offset="1" stop-color="#f7f7f7"/></linearGradient></defs>
<rect x="558.5" y="76.5" width="291.0" height="291.0" fill="url(#plotbg)"/>
<line x1="558.5" y1="125.5" x2="849.5" y2="125.5" stroke="#707070" stroke-width="1" shape-rendering="crispEdges"/>
<line x1="558.5" y1="174.5" x2="849.5" y2="174.5" stroke="#707070" stroke-width="1" shape-rendering="crispEdges"/>
<line x1="558.5" y1="222.5" x2="849.5" y2="222.5" stroke="#707070" stroke-width="1" shape-rendering="crispEdges"/>
<line x1="558.5" y1="270.5" x2="849.5" y2="270.5" stroke="#707070" stroke-width="1" shape-rendering="crispEdges"/>
<line x1="558.5" y1="318.5" x2="849.5" y2="318.5" stroke="#707070" stroke-width="1" shape-rendering="crispEdges"/>
<rect x="585.9" y="302.1" width="15" height="65.4" fill="#d7d7d7"/>
<rect x="608.0" y="286.8" width="15" height="80.7" fill="#d7d7d7"/>
<rect x="630.0" y="258.8" width="15" height="108.7" fill="#d7d7d7"/>
<rect x="652.0" y="244.0" width="15" height="123.5" fill="#d7d7d7"/>
<rect x="674.0" y="283.9" width="15" height="83.6" fill="#d7d7d7"/>
<rect x="696.2" y="265.0" width="15" height="102.5" fill="#d7d7d7"/>
<rect x="718.0" y="220.2" width="15" height="147.3" fill="#d7d7d7"/>
<rect x="740.1" y="115.8" width="15" height="251.7" fill="#d7d7d7"/>
<rect x="762.0" y="243.0" width="15" height="124.5" fill="#d7d7d7"/>
<rect x="784.1" y="227.1" width="15" height="140.4" fill="#d7d7d7"/>
<rect x="806.0" y="204.9" width="15" height="162.6" fill="#d7d7d7"/>
<rect x="826.9" y="251.2" width="15" height="116.3" fill="#d7d7d7"/>
<g shape-rendering="crispEdges"><line x1="558.5" y1="76.5" x2="849.5" y2="76.5" stroke="#8a8a8a" stroke-width="1"/>
<line x1="558.5" y1="76.0" x2="558.5" y2="368.0" stroke="#1a1a1a" stroke-width="1"/>
<line x1="849.5" y1="76.0" x2="849.5" y2="368.0" stroke="#1a1a1a" stroke-width="1"/>
<line x1="558.5" y1="367.5" x2="849.5" y2="367.5" stroke="#1a1a1a" stroke-width="1"/></g>
<line x1="570.9" y1="367.5" x2="570.9" y2="370.7" stroke="#222" stroke-width="1"/>
<text x="570.9" y="381" text-anchor="middle" font-size="12" font-weight="bold" fill="#111">2000</text>
<line x1="658.8" y1="367.5" x2="658.8" y2="370.7" stroke="#222" stroke-width="1"/>
<text x="658.8" y="381" text-anchor="middle" font-size="12" font-weight="bold" fill="#111">2004</text>
<line x1="746.7" y1="367.5" x2="746.7" y2="370.7" stroke="#222" stroke-width="1"/>
<text x="746.7" y="381" text-anchor="middle" font-size="12" font-weight="bold" fill="#111">2008</text>
<line x1="835" y1="367.5" x2="835" y2="370.7" stroke="#222" stroke-width="1"/>
<text x="835" y="381" text-anchor="middle" font-size="12" font-weight="bold" fill="#111">2012</text>
<text x="550" y="82.1" text-anchor="end" font-size="12" font-weight="bold" fill="#111">225</text>
<text x="857.4" y="82.1" text-anchor="start" font-size="12" font-weight="bold" fill="#111">15</text>
<text x="550" y="130.1" text-anchor="end" font-size="12" font-weight="bold" fill="#111">200</text>
<text x="857.4" y="130.1" text-anchor="start" font-size="12" font-weight="bold" fill="#111">12.5</text>
<text x="550" y="179.1" text-anchor="end" font-size="12" font-weight="bold" fill="#111">175</text>
<text x="857.4" y="179.1" text-anchor="start" font-size="12" font-weight="bold" fill="#111">10</text>
<text x="550" y="227.1" text-anchor="end" font-size="12" font-weight="bold" fill="#111">150</text>
<text x="857.4" y="227.1" text-anchor="start" font-size="12" font-weight="bold" fill="#111">7.5</text>
<text x="550" y="275.1" text-anchor="end" font-size="12" font-weight="bold" fill="#111">125</text>
<text x="857.4" y="275.1" text-anchor="start" font-size="12" font-weight="bold" fill="#111">5</text>
<text x="550" y="323.1" text-anchor="end" font-size="12" font-weight="bold" fill="#111">100</text>
<text x="857.4" y="323.1" text-anchor="start" font-size="12" font-weight="bold" fill="#111">2.5</text>
<text x="550" y="372.1" text-anchor="end" font-size="12" font-weight="bold" fill="#111">75</text>
<text x="857.4" y="372.1" text-anchor="start" font-size="12" font-weight="bold" fill="#111">0</text>
<path d="M570.9 318.8 L593.1 311.9 L615.0 303.6 L636.9 292.0 L658.8 278.2 L680.9 267.7 L703.0 254.6 L724.8 235.2 L746.7 198.7 L768.9 178.3 L790.8 154.1 L812.9 124.1 L835.0 100.3" fill="none" stroke="#cc7a83" stroke-width="3" stroke-linejoin="round" stroke-linecap="round"/>
<circle cx="570.9" cy="318.8" r="3.7" fill="#cc7a83"/>
<circle cx="593.1" cy="311.9" r="3.7" fill="#cc7a83"/>
<circle cx="615.0" cy="303.6" r="3.7" fill="#cc7a83"/>
<circle cx="636.9" cy="292.0" r="3.7" fill="#cc7a83"/>
<circle cx="658.8" cy="278.2" r="3.7" fill="#cc7a83"/>
<circle cx="680.9" cy="267.7" r="3.7" fill="#cc7a83"/>
<circle cx="703.0" cy="254.6" r="3.7" fill="#cc7a83"/>
<circle cx="724.8" cy="235.2" r="3.7" fill="#cc7a83"/>
<circle cx="746.7" cy="198.7" r="3.7" fill="#cc7a83"/>
<circle cx="768.9" cy="178.3" r="3.7" fill="#cc7a83"/>
<circle cx="790.8" cy="154.1" r="3.7" fill="#cc7a83"/>
<circle cx="812.9" cy="124.1" r="3.7" fill="#cc7a83"/>
<circle cx="835.0" cy="100.3" r="3.7" fill="#cc7a83"/>
<text transform="translate(518.6,222.5) rotate(-90)" text-anchor="middle" font-size="11.5" font-weight="bold" fill="#111">index, 2000 = 100</text>
<text transform="translate(899,222.5) rotate(-90)" text-anchor="middle" font-size="11.5" fill="#111">%</text>
<rect x="610" y="56" width="15.5" height="12" rx="1.5" fill="#d7d7d7"/>
<text x="631" y="67" font-size="12" fill="#222" textLength="51.5" lengthAdjust="spacingAndGlyphs">% Change</text>
<line x1="691" y1="62.5" x2="707" y2="62.5" stroke="#cc7a83" stroke-width="3"/>
<circle cx="699" cy="62.5" r="4" fill="#cc7a83"/>
<text x="712.8" y="67" font-size="12" fill="#222">Index (2000=100)</text>
</svg>
<div class="src" style="left:489px;top:398px;width:431px;">Source: <a>FAO Consumer Price Indices, December 2013</a></div>
<!-- Global Hunger Index panel -->
<div class="title" style="left:16px;top:430px;">Global Hunger Index</div>
<svg class="ico" style="left:210px;top:429px;" viewBox="0 0 37 12"><rect x="0.5" y="0.5" width="15" height="10.4" rx="3" ry="3" fill="#fff" stroke="#8b909a" stroke-width="1"/><path d="M4.2 4.2 L11.4 4.2 L7.8 8.2 Z" fill="#7c808a"/><rect x="17.3" y="1.2" width="18.6" height="9.6" fill="#cfe0f7" opacity="0.75"/><rect x="19.3" y="1.5" width="14.400" height="8.9" fill="#fffdf6" stroke="#74a9ee" stroke-width="0.9"/><rect x="18.9" y="1" width="15.2" height="1.7" fill="#2467d9"/><rect x="22.2" y="4.2" width="9.2" height="4.6" fill="#e7e7e7"/></svg>
<div class="abs" style="left:13px;top:451px;width:233px;height:593px;background:#f7f7f7;"></div>
<div class="hrow" style="top:451px;">Burundi<i>38.8</i><b style="width:93.1px"></b></div>
<div class="hrow" style="top:470px;">Eritrea<i>35.0</i><b style="width:84.0px"></b></div>
<div class="hrow" style="top:489px;">Comoros<i>33.6</i><b style="width:80.6px"></b></div>
<div class="hrow" style="top:508px;">Timor-Leste<i>29.6</i><b style="width:71.0px"></b></div>
<div class="hrow" style="top:527px;">Sudan<i>27.0</i><b style="width:64.8px"></b></div>
<div class="hrow" style="top:546px;">Chad<i>26.9</i><b style="width:64.6px"></b></div>
<div class="hrow" style="top:565px;">Yemen, Rep.<i>26.5</i><b style="width:63.6px"></b></div>
<div class="hrow" style="top:584px;">Ethiopia<i>25.7</i><b style="width:61.7px"></b></div>
<div class="hrow" style="top:603px;">Madagascar<i>25.2</i><b style="width:60.5px"></b></div>
<div class="hrow" style="top:622px;">Zambia<i>24.1</i><b style="width:57.8px"></b></div>
<div class="hrow" style="top:641px;">Central African Rep.<i>23.3</i><b style="width:55.9px"></b></div>
<div class="hrow" style="top:660px;">Haiti<i>23.3</i><b style="width:55.9px"></b></div>
<div class="hrow" style="top:679px;">Sierra Leone<i>22.8</i><b style="width:54.7px"></b></div>
<div class="hrow" style="top:698px;">Burkina Faso<i>22.2</i><b style="width:53.3px"></b></div>
<div class="hrow" style="top:717px;">Mozambique<i>21.5</i><b style="width:51.6px"></b></div>
<div class="hrow" style="top:736px;">India<i>21.3</i><b style="width:51.1px"></b></div>
<div class="hrow" style="top:755px;">Tanzania<i>20.6</i><b style="width:49.4px"></b></div>
<div class="hrow" style="top:774px;">Congo, Rep.<i>20.5</i><b style="width:49.2px"></b></div>
<div class="hrow" style="top:793px;">Niger<i>20.3</i><b style="width:48.7px"></b></div>
<div class="hrow" style="top:812px;">Djibouti<i>19.5</i><b style="width:46.8px"></b></div>
<div class="hrow" style="top:831px;">Bangladesh<i>19.4</i><b style="width:46.6px"></b></div>
<div class="hrow" style="top:850px;">Pakistan<i>19.3</i><b style="width:46.3px"></b></div>
<div class="hrow" style="top:869px;">Uganda<i>19.2</i><b style="width:46.1px"></b></div>
<div class="hrow" style="top:888px;">Angola<i>19.1</i><b style="width:45.8px"></b></div>
<div class="hrow" style="top:907px;">Lao PDR<i>18.7</i><b style="width:44.9px"></b></div>
<div class="hrow" style="top:926px;">Namibia<i>18.4</i><b style="width:44.2px"></b></div>
<div class="hrow" style="top:945px;">Kenya<i>18.0</i><b style="width:43.2px"></b></div>
<div class="hrow" style="top:964px;">North Korea<i>18.0</i><b style="width:43.2px"></b></div>
<div class="hrow" style="top:983px;">Liberia<i>17.9</i><b style="width:43.0px"></b></div>
<div class="hrow" style="top:1002px;">Nepal<i>17.3</i><b style="width:41.5px"></b></div>
<div class="hl" style="left:13px;top:1044px;width:233px;background:#cfcfcf;"></div>
<svg class="play" style="left:11.5px;top:1047px;width:28px;height:28px;" viewBox="0 0 28 28"><circle cx="14" cy="15.2" r="12" fill="#7d7d7d" opacity="0.55" filter="url(#psh)"/><circle cx="14" cy="14" r="11.8" fill="url(#pg)" stroke="#d0d4d6" stroke-width="0.6"/><path d="M11.3 9.2 L18.6 14 L11.3 18.8 Z" fill="#0f5565"/></svg>
<div class="abs" style="left:64px;top:1049px;width:34.7px;height:9px;background:#fba94a;"></div>
<div class="abs" style="left:100.1px;top:1049px;width:34.8px;height:9px;background:#fba94a;"></div>
<div class="abs" style="left:136.3px;top:1049px;width:34.4px;height:9px;background:#fba94a;"></div>
<div class="abs" style="left:172.1px;top:1049px;width:35.9px;height:9px;background:#fba94a;"></div>
<div class="abs" style="left:209.1px;top:1049px;width:35.9px;height:9px;background:#006400;"></div>
<div class="yr" style="left:63.5px;top:1061px;">1990</div>
<div class="yr" style="left:139px;top:1061px;">2005</div>
<div class="yr" style="left:214px;top:1061px;">2013</div>
<div class="hl" style="left:13px;top:1079px;width:233px;background:#cfcfcf;"></div>
<!-- Dashboards panel -->
<div class="title" style="left:257.5px;top:430px;">Dashboards</div>
<svg class="ico" style="left:450px;top:429px;" viewBox="0 0 37 12"><rect x="0.5" y="0.5" width="15" height="10.4" rx="3" ry="3" fill="#fff" stroke="#8b909a" stroke-width="1"/><path d="M4.2 4.2 L11.4 4.2 L7.8 8.2 Z" fill="#7c808a"/><rect x="17.3" y="1.2" width="18.6" height="9.6" fill="#cfe0f7" opacity="0.75"/><rect x="19.3" y="1.5" width="14.400" height="8.9" fill="#fffdf6" stroke="#74a9ee" stroke-width="0.9"/><rect x="18.9" y="1" width="15.2" height="1.7" fill="#2467d9"/><rect x="22.2" y="4.2" width="9.2" height="4.6" fill="#e7e7e7"/></svg>
<div class="lst" style="left:259.2px;top:0;">
<span class="h u" style="top:456.5px;letter-spacing:-0.281px">General</span>
<a style="top:483px;letter-spacing:-0.065px">Food Security</a>
<a style="top:507px;letter-spacing:0.018px">Global Food Security Index</a>
<a style="top:531px;letter-spacing:0.066px">Food Security - Meat</a>
<a style="top:555px;letter-spacing:-0.040px">Food Security - Cerials</a>
<a style="top:579px;letter-spacing:0.100px">Food Security - Vegetables</a>
<a style="top:603px;letter-spacing:-0.036px">Food Security - Fruits</a>
<a style="top:627px;letter-spacing:0.093px">Water, Food, Energy</a>
<a style="top:651px;letter-spacing:0.183px">Water, Energy, Food</a>
<span class="h u" style="top:673.5px;letter-spacing:0.322px">Food supply</span>
<a style="top:702px;letter-spacing:-0.021px">Food Supply in Africa</a>
<a style="top:726px;letter-spacing:0.018px">Food Supply, kg/capita/year</a>
<span class="h" style="top:747.5px;letter-spacing:0.107px">Diet Composition</span>
<a style="top:774px;letter-spacing:0.017px">Daily Diet Across Countries</a>
<a style="top:798px;letter-spacing:0.117px">Income and Daily Diet</a>
<span class="h" style="top:819.5px;letter-spacing:0.064px">Expenditures on Food</span>
<a style="top:846px;letter-spacing:0.013px">Expenditures Spent on Food</a>
<a style="top:870px;letter-spacing:0.139px">Alcohol Consumption and Welfare</a>
<span class="h" style="top:891.5px;letter-spacing:0.087px">Food Consumption</span>
<a style="top:918px;letter-spacing:0.097px">Food Consumption, Quantities</a>
<a style="top:942px;letter-spacing:-0.010px">Food Consumption, Structure</a>
<span class="h" style="top:963.5px;letter-spacing:0.092px">Food Production</span>
<a style="top:990px;letter-spacing:0.108px">Milk Production Across the World</a>
<a style="top:1014px;letter-spacing:0.048px">Food Production, Quantities</a>
</div>
<!-- Data panel -->
<div class="title" style="left:497.5px;top:430px;">Data</div>
<svg class="ico" style="left:880px;top:429px;" viewBox="0 0 37 12"><rect x="0.5" y="0.5" width="15" height="10.4" rx="3" ry="3" fill="#fff" stroke="#8b909a" stroke-width="1"/><path d="M4.2 4.2 L11.4 4.2 L7.8 8.2 Z" fill="#7c808a"/><rect x="17.3" y="1.2" width="18.6" height="9.6" fill="#cfe0f7" opacity="0.75"/><rect x="19.3" y="1.5" width="14.400" height="8.9" fill="#fffdf6" stroke="#74a9ee" stroke-width="0.9"/><rect x="18.9" y="1" width="15.2" height="1.7" fill="#2467d9"/><rect x="22.2" y="4.2" width="9.2" height="4.6" fill="#e7e7e7"/></svg>
<div class="ditem" style="top:466px;"><div class="bx"><svg class="abs" style="left:3px;top:6.5px" width="13.5" height="13.5" viewBox="0 0 14 14"><ellipse cx="5.6" cy="2.6" rx="4.2" ry="1.7" fill="#4a90e2"/><path d="M1.4 3.6c0 1 1.9 1.7 4.2 1.7s4.2-.7 4.2-1.7v1.9c0 1-1.9 1.7-4.2 1.7S1.4 6.5 1.4 5.5z" fill="#3b82dc"/><path d="M1.4 6.6c0 1 1.9 1.7 4.2 1.7s4.2-.7 4.2-1.7v1.9c0 1-1.9 1.7-4.2 1.7S1.4 9.5 1.4 8.5z" fill="#3b82dc"/><path d="M1.4 9.6c0 1 1.9 1.7 4.2 1.7.5 0 1-.03 1.4-.1v1.3c-.4.07-.9.1-1.4.1-2.300 0-4.200-.7-4.200-1.700z" fill="#3b82dc"/><path d="M6.800 6.200h4.200l1.600 1.600v5.200h-5.800z" fill="#f4f4f4" stroke="#b9bcc2" stroke-width="0.8"/></svg></div><a style="letter-spacing:0.34px">FAO Food security Data by Food Groups/Items, June 2012</a>
<span><i>Source:</i> <b style="letter-spacing:-0.090px">Food and Agriculture Organization</b></span></div>
<div class="ditem" style="top:509px;"><div class="bx"><svg class="abs" style="left:3px;top:6.5px" width="13.5" height="13.5" viewBox="0 0 14 14"><ellipse cx="5.6" cy="2.6" rx="4.2" ry="1.7" fill="#4a90e2"/><path d="M1.4 3.6c0 1 1.9 1.7 4.2 1.7s4.2-.7 4.2-1.7v1.9c0 1-1.9 1.7-4.2 1.7S1.4 6.5 1.4 5.5z" fill="#3b82dc"/><path d="M1.4 6.6c0 1 1.9 1.7 4.2 1.7s4.2-.7 4.2-1.7v1.9c0 1-1.9 1.7-4.2 1.7S1.4 9.5 1.4 8.5z" fill="#3b82dc"/><path d="M1.4 9.6c0 1 1.9 1.7 4.2 1.7.5 0 1-.03 1.4-.1v1.3c-.4.07-.9.1-1.4.1-2.300 0-4.200-.7-4.200-1.700z" fill="#3b82dc"/><path d="M6.800 6.200h4.200l1.600 1.600v5.200h-5.800z" fill="#f4f4f4" stroke="#b9bcc2" stroke-width="0.8"/></svg></div><a style="letter-spacing:0.3px">FAO Food security Data, June 2012</a>
<span><i>Source:</i> <b style="letter-spacing:-0.090px">Food and Agriculture Organization</b></span></div>
<div class="ditem" style="top:552px;"><div class="bx"><svg class="abs" style="left:3px;top:6.5px" width="13.5" height="13.5" viewBox="0 0 14 14"><ellipse cx="5.6" cy="2.6" rx="4.2" ry="1.7" fill="#4a90e2"/><path d="M1.4 3.6c0 1 1.9 1.7 4.2 1.7s4.2-.7 4.2-1.7v1.9c0 1-1.9 1.7-4.2 1.7S1.4 6.5 1.4 5.5z" fill="#3b82dc"/><path d="M1.4 6.6c0 1 1.9 1.7 4.2 1.7s4.2-.7 4.2-1.7v1.9c0 1-1.9 1.7-4.2 1.7S1.4 9.5 1.4 8.5z" fill="#3b82dc"/><path d="M1.4 9.6c0 1 1.9 1.7 4.2 1.7.5 0 1-.03 1.4-.1v1.3c-.4.07-.9.1-1.4.1-2.300 0-4.200-.7-4.200-1.700z" fill="#3b82dc"/><path d="M6.800 6.200h4.200l1.600 1.600v5.200h-5.800z" fill="#f4f4f4" stroke="#b9bcc2" stroke-width="0.8"/></svg></div><a style="letter-spacing:0.49px">Expenditures spent on food by selected countries, 2010</a>
<span><i>Source:</i> <b style="letter-spacing:0.060px">United States Department of Agriculture</b></span></div>
<div class="ditem" style="top:595px;"><div class="bx"><svg class="abs" style="left:3px;top:6.5px" width="13.5" height="13.5" viewBox="0 0 14 14"><ellipse cx="5.6" cy="2.6" rx="4.2" ry="1.7" fill="#4a90e2"/><path d="M1.4 3.6c0 1 1.9 1.7 4.2 1.7s4.2-.7 4.2-1.7v1.9c0 1-1.9 1.7-4.2 1.7S1.4 6.5 1.4 5.5z" fill="#3b82dc"/><path d="M1.4 6.6c0 1 1.9 1.7 4.2 1.7s4.2-.7 4.2-1.7v1.9c0 1-1.9 1.7-4.2 1.7S1.4 9.5 1.4 8.5z" fill="#3b82dc"/><path d="M1.4 9.6c0 1 1.9 1.7 4.2 1.7.5 0 1-.03 1.4-.1v1.3c-.4.07-.9.1-1.4.1-2.300 0-4.200-.7-4.200-1.700z" fill="#3b82dc"/><path d="M6.800 6.200h4.200l1.600 1.600v5.200h-5.800z" fill="#f4f4f4" stroke="#b9bcc2" stroke-width="0.8"/></svg></div><a style="letter-spacing:0.42px">Global Hunger Index, 2013</a>
<span><i>Source:</i> <b style="letter-spacing:-0.070px">International Food Policy Research Institute</b></span></div>
<div class="ditem" style="top:638px;"><div class="bx"><svg class="abs" style="left:3px;top:6.5px" width="13.5" height="13.5" viewBox="0 0 14 14"><ellipse cx="5.6" cy="2.6" rx="4.2" ry="1.7" fill="#4a90e2"/><path d="M1.4 3.6c0 1 1.9 1.7 4.2 1.7s4.2-.7 4.2-1.7v1.9c0 1-1.9 1.7-4.2 1.7S1.4 6.5 1.4 5.5z" fill="#3b82dc"/><path d="M1.4 6.6c0 1 1.9 1.7 4.2 1.7s4.2-.7 4.2-1.7v1.9c0 1-1.9 1.7-4.2 1.7S1.4 9.5 1.4 8.5z" fill="#3b82dc"/><path d="M1.4 9.6c0 1 1.9 1.7 4.2 1.7.5 0 1-.03 1.4-.1v1.3c-.4.07-.9.1-1.4.1-2.300 0-4.200-.7-4.200-1.700z" fill="#3b82dc"/><path d="M6.800 6.200h4.200l1.600 1.600v5.200h-5.800z" fill="#f4f4f4" stroke="#b9bcc2" stroke-width="0.8"/></svg></div><a style="letter-spacing:0.45px">Expenditure on food</a>
<span><i>Source:</i> <b style="letter-spacing:-0.010px">Knoema</b></span></div>
<div class="ditem" style="top:681px;"><div class="bx"><svg class="abs" style="left:3px;top:6.5px" width="13.5" height="13.5" viewBox="0 0 14 14"><ellipse cx="5.6" cy="2.6" rx="4.2" ry="1.7" fill="#4a90e2"/><path d="M1.4 3.6c0 1 1.9 1.7 4.2 1.7s4.2-.7 4.2-1.7v1.9c0 1-1.9 1.7-4.2 1.7S1.4 6.5 1.4 5.5z" fill="#3b82dc"/><path d="M1.4 6.6c0 1 1.9 1.7 4.2 1.7s4.2-.7 4.2-1.7v1.9c0 1-1.9 1.7-4.2 1.7S1.4 9.5 1.4 8.5z" fill="#3b82dc"/><path d="M1.4 9.6c0 1 1.9 1.7 4.2 1.7.5 0 1-.03 1.4-.1v1.3c-.4.07-.9.1-1.4.1-2.300 0-4.200-.7-4.200-1.700z" fill="#3b82dc"/><path d="M6.800 6.200h4.200l1.600 1.600v5.200h-5.800z" fill="#f4f4f4" stroke="#b9bcc2" stroke-width="0.8"/></svg></div><a style="letter-spacing:0.53px">FAO Weight percentages of food losses and waste, 2011</a>
<span><i>Source:</i> <b style="letter-spacing:-0.090px">Food and Agriculture Organization</b></span></div>
<div class="ditem" style="top:724px;"><div class="bx"><svg class="abs" style="left:3px;top:6.5px" width="13.5" height="13.5" viewBox="0 0 14 14"><ellipse cx="5.6" cy="2.6" rx="4.2" ry="1.7" fill="#4a90e2"/><path d="M1.4 3.6c0 1 1.9 1.7 4.2 1.7s4.2-.7 4.2-1.7v1.9c0 1-1.9 1.7-4.2 1.7S1.4 6.5 1.4 5.5z" fill="#3b82dc"/><path d="M1.4 6.6c0 1 1.9 1.7 4.2 1.7s4.2-.7 4.2-1.7v1.9c0 1-1.9 1.7-4.2 1.7S1.4 9.5 1.4 8.5z" fill="#3b82dc"/><path d="M1.4 9.6c0 1 1.9 1.7 4.2 1.7.5 0 1-.03 1.4-.1v1.3c-.4.07-.9.1-1.4.1-2.300 0-4.200-.7-4.200-1.700z" fill="#3b82dc"/><path d="M6.800 6.200h4.200l1.600 1.600v5.200h-5.800z" fill="#f4f4f4" stroke="#b9bcc2" stroke-width="0.8"/></svg></div><a style="letter-spacing:0.46px">Food supply chain monitor</a>
<span><i>Source:</i> <b style="letter-spacing:-0.130px">Eurostat</b></span></div>
<div class="ditem" style="top:767px;"><div class="bx"><svg class="abs" style="left:3px;top:6.5px" width="13.5" height="13.5" viewBox="0 0 14 14"><ellipse cx="5.6" cy="2.6" rx="4.2" ry="1.7" fill="#4a90e2"/><path d="M1.4 3.6c0 1 1.9 1.7 4.2 1.7s4.2-.7 4.2-1.7v1.9c0 1-1.9 1.7-4.2 1.7S1.4 6.5 1.4 5.5z" fill="#3b82dc"/><path d="M1.4 6.6c0 1 1.9 1.7 4.2 1.7s4.2-.7 4.2-1.7v1.9c0 1-1.9 1.7-4.2 1.7S1.4 9.5 1.4 8.5z" fill="#3b82dc"/><path d="M1.4 9.6c0 1 1.9 1.7 4.2 1.7.5 0 1-.03 1.4-.1v1.3c-.4.07-.9.1-1.4.1-2.300 0-4.200-.7-4.200-1.700z" fill="#3b82dc"/><path d="M6.800 6.200h4.200l1.600 1.600v5.200h-5.800z" fill="#f4f4f4" stroke="#b9bcc2" stroke-width="0.8"/></svg></div><a style="letter-spacing:0.42px">Food Dollar Series, 1993-2011, March 2013</a>
<span><i>Source:</i> <b style="letter-spacing:0.060px">United States Department of Agriculture</b></span></div>
<div class="ditem" style="top:810px;"><div class="bx"><svg class="abs" style="left:3px;top:6.5px" width="13.5" height="13.5" viewBox="0 0 14 14"><ellipse cx="5.6" cy="2.6" rx="4.2" ry="1.7" fill="#4a90e2"/><path d="M1.4 3.6c0 1 1.9 1.7 4.2 1.7s4.2-.7 4.2-1.7v1.9c0 1-1.9 1.7-4.2 1.7S1.4 6.5 1.4 5.5z" fill="#3b82dc"/><path d="M1.4 6.6c0 1 1.9 1.7 4.2 1.7s4.2-.7 4.2-1.7v1.9c0 1-1.9 1.7-4.2 1.7S1.4 9.5 1.4 8.5z" fill="#3b82dc"/><path d="M1.4 9.6c0 1 1.9 1.7 4.2 1.7.5 0 1-.03 1.4-.1v1.3c-.4.07-.9.1-1.4.1-2.300 0-4.200-.7-4.200-1.700z" fill="#3b82dc"/><path d="M6.800 6.200h4.200l1.600 1.600v5.200h-5.800z" fill="#f4f4f4" stroke="#b9bcc2" stroke-width="0.8"/></svg></div><a style="letter-spacing:0.34px">FAO Consumer Price Indices, December 2013</a>
<span><i>Source:</i> <b style="letter-spacing:-0.090px">Food and Agriculture Organization</b></span></div>
<div class="ditem" style="top:853px;"><div class="bx"><svg class="abs" style="left:3px;top:6.5px" width="13.5" height="13.5" viewBox="0 0 14 14"><ellipse cx="5.6" cy="2.6" rx="4.2" ry="1.7" fill="#4a90e2"/><path d="M1.4 3.6c0 1 1.9 1.7 4.2 1.7s4.2-.7 4.2-1.7v1.9c0 1-1.9 1.7-4.2 1.7S1.4 6.5 1.4 5.5z" fill="#3b82dc"/><path d="M1.4 6.6c0 1 1.9 1.7 4.2 1.7s4.2-.7 4.2-1.7v1.9c0 1-1.9 1.7-4.2 1.7S1.4 9.5 1.4 8.5z" fill="#3b82dc"/><path d="M1.4 9.6c0 1 1.9 1.7 4.2 1.7.5 0 1-.03 1.4-.1v1.3c-.4.07-.9.1-1.4.1-2.300 0-4.200-.7-4.200-1.700z" fill="#3b82dc"/><path d="M6.800 6.200h4.200l1.600 1.600v5.200h-5.800z" fill="#f4f4f4" stroke="#b9bcc2" stroke-width="0.8"/></svg></div><a style="letter-spacing:0.4px">IGC Daily Grains and Oilseeds Index (GOI), August 2013</a>
<span><i>Source:</i> <b style="letter-spacing:-0.090px">International Grains Council</b></span></div>
<div class="ditem" style="top:896px;"><div class="bx"><svg class="abs" style="left:3px;top:6.5px" width="13.5" height="13.5" viewBox="0 0 14 14"><ellipse cx="5.6" cy="2.6" rx="4.2" ry="1.7" fill="#4a90e2"/><path d="M1.4 3.6c0 1 1.9 1.7 4.2 1.7s4.2-.7 4.2-1.7v1.9c0 1-1.9 1.7-4.2 1.7S1.4 6.5 1.4 5.5z" fill="#3b82dc"/><path d="M1.4 6.6c0 1 1.9 1.7 4.2 1.7s4.2-.7 4.2-1.7v1.9c0 1-1.9 1.7-4.2 1.7S1.4 9.5 1.4 8.5z" fill="#3b82dc"/><path d="M1.4 9.6c0 1 1.9 1.7 4.2 1.7.5 0 1-.03 1.4-.1v1.3c-.4.07-.9.1-1.4.1-2.300 0-4.200-.7-4.200-1.700z" fill="#3b82dc"/><path d="M6.800 6.200h4.200l1.600 1.600v5.200h-5.800z" fill="#f4f4f4" stroke="#b9bcc2" stroke-width="0.8"/></svg></div><a style="letter-spacing:0.33px">Global Food Security Index, 2013</a>
<span><i>Source:</i> <b style="letter-spacing:-0.030px">Economist Intelligence Unit</b></span></div>
<div class="ditem" style="top:939px;"><div class="bx"><svg class="abs" style="left:3px;top:6.5px" width="13.5" height="13.5" viewBox="0 0 14 14"><ellipse cx="5.6" cy="2.6" rx="4.2" ry="1.7" fill="#4a90e2"/><path d="M1.4 3.6c0 1 1.9 1.7 4.2 1.7s4.2-.7 4.2-1.7v1.9c0 1-1.9 1.7-4.2 1.7S1.4 6.5 1.4 5.5z" fill="#3b82dc"/><path d="M1.4 6.6c0 1 1.9 1.7 4.2 1.7s4.2-.7 4.2-1.7v1.9c0 1-1.9 1.7-4.2 1.7S1.4 9.5 1.4 8.5z" fill="#3b82dc"/><path d="M1.4 9.6c0 1 1.9 1.7 4.2 1.7.5 0 1-.03 1.4-.1v1.3c-.4.07-.9.1-1.4.1-2.300 0-4.200-.7-4.200-1.700z" fill="#3b82dc"/><path d="M6.800 6.200h4.200l1.600 1.600v5.200h-5.800z" fill="#f4f4f4" stroke="#b9bcc2" stroke-width="0.8"/></svg></div><a style="letter-spacing:0.42px">African Development Bank, Food Security, December<br>2011</a>
<span style="left:0;top:40px"><i>Source:</i> <b style="letter-spacing:-0.003px">African Development Bank Group</b></span></div>
<div class="ditem" style="top:1001px;"><div class="bx"><svg class="abs" style="left:3px;top:6.5px" width="13.5" height="13.5" viewBox="0 0 14 14"><ellipse cx="5.6" cy="2.6" rx="4.2" ry="1.7" fill="#4a90e2"/><path d="M1.4 3.6c0 1 1.9 1.7 4.2 1.7s4.2-.7 4.2-1.7v1.9c0 1-1.9 1.7-4.2 1.7S1.4 6.5 1.4 5.5z" fill="#3b82dc"/><path d="M1.4 6.6c0 1 1.9 1.7 4.2 1.7s4.2-.7 4.2-1.7v1.9c0 1-1.9 1.7-4.2 1.7S1.4 9.5 1.4 8.5z" fill="#3b82dc"/><path d="M1.4 9.6c0 1 1.9 1.7 4.2 1.7.5 0 1-.03 1.4-.1v1.3c-.4.07-.9.1-1.4.1-2.300 0-4.200-.7-4.200-1.700z" fill="#3b82dc"/><path d="M6.800 6.200h4.200l1.600 1.600v5.200h-5.800z" fill="#f4f4f4" stroke="#b9bcc2" stroke-width="0.8"/></svg></div><a style="letter-spacing:0.3px">FAO Food Price Index, December 2013</a>
<span><i>Source:</i> <b style="letter-spacing:-0.090px">Food and Agriculture Organization</b></span></div>
<!-- bottom link lists -->
<svg class="ico" style="left:274.3px;top:1098px;" viewBox="0 0 37 12"><rect x="0.5" y="0.5" width="15" height="10.4" rx="3" ry="3" fill="#fff" stroke="#8b909a" stroke-width="1"/><path d="M4.2 4.2 L11.4 4.2 L7.8 8.2 Z" fill="#7c808a"/><rect x="17.3" y="1.2" width="18.6" height="9.6" fill="#cfe0f7" opacity="0.75"/><rect x="19.3" y="1.5" width="14.400" height="8.9" fill="#fffdf6" stroke="#74a9ee" stroke-width="0.9"/><rect x="18.9" y="1" width="15.2" height="1.7" fill="#2467d9"/><rect x="22.2" y="4.2" width="9.2" height="4.6" fill="#e7e7e7"/></svg>
<svg class="ico" style="left:576.5px;top:1098px;" viewBox="0 0 37 12"><rect x="0.5" y="0.5" width="15" height="10.4" rx="3" ry="3" fill="#fff" stroke="#8b909a" stroke-width="1"/><path d="M4.2 4.2 L11.4 4.2 L7.8 8.2 Z" fill="#7c808a"/><rect x="17.3" y="1.2" width="18.6" height="9.6" fill="#cfe0f7" opacity="0.75"/><rect x="19.3" y="1.5" width="14.400" height="8.9" fill="#fffdf6" stroke="#74a9ee" stroke-width="0.9"/><rect x="18.9" y="1" width="15.2" height="1.7" fill="#2467d9"/><rect x="22.2" y="4.2" width="9.2" height="4.6" fill="#e7e7e7"/></svg>
<svg class="ico" style="left:883.7px;top:1098px;" viewBox="0 0 37 12"><rect x="0.5" y="0.5" width="15" height="10.4" rx="3" ry="3" fill="#fff" stroke="#8b909a" stroke-width="1"/><path d="M4.2 4.2 L11.4 4.2 L7.8 8.2 Z" fill="#7c808a"/><rect x="17.3" y="1.2" width="18.6" height="9.6" fill="#cfe0f7" opacity="0.75"/><rect x="19.3" y="1.5" width="14.400" height="8.9" fill="#fffdf6" stroke="#74a9ee" stroke-width="0.9"/><rect x="18.9" y="1" width="15.2" height="1.7" fill="#2467d9"/><rect x="22.2" y="4.2" width="9.2" height="4.6" fill="#e7e7e7"/></svg>
<div class="lst" style="left:18.2px;top:0;">
<span class="h" style="top:1125.3px;letter-spacing:0.042px">Food Imports (Data Atlas)</span>
<a style="top:1152px;letter-spacing:0.021px">Cereals - Excluding Beer</a>
<a style="top:1176px;letter-spacing:0.231px">Vegetables</a>
<a style="top:1200px;letter-spacing:0.255px">Meat</a>
<a style="top:1224px;letter-spacing:-0.139px">Fish, Seafood</a>
<span class="h" style="top:1245.3px;letter-spacing:0.059px">Food Exports (Data Atlas)</span>
<a style="top:1272px;letter-spacing:0.021px">Cereals - Excluding Beer</a>
<a style="top:1296px;letter-spacing:0.231px">Vegetables</a>
<a style="top:1320px;letter-spacing:0.255px">Meat</a>
<a style="top:1344px;letter-spacing:-0.139px">Fish, Seafood</a>
</div>
<div class="lst" style="left:323.1px;top:0;">
<span class="h u" style="top:1125.3px;letter-spacing:0.019px">Food Access</span>
<a style="top:1152px;letter-spacing:0.060px">Availability of Food Across Countries</a>
<a style="top:1176px;letter-spacing:0.234px">Malnutrition</a>
<a style="top:1200px;letter-spacing:0.049px">Prevalence of Undernourishment</a>
<a style="top:1224px;letter-spacing:0.062px">Prevalence of Undernourishment in Africa</a>
<a style="top:1248px;letter-spacing:0.086px">Global Hunger Index</a>
</div>
<div class="lst" style="left:625.2px;top:0;">
<span class="h u" style="top:1125.3px;letter-spacing:0.199px">Food Inflation</span>
<a style="top:1152px;letter-spacing:-0.022px">Growing Grain Prices</a>
<a style="top:1176px;letter-spacing:0.139px">Inflation on Staple food items</a>
<a style="top:1200px;letter-spacing:0.053px">Food Price Index in India</a>
<a style="top:1224px;letter-spacing:0.069px">Monthly Food Price Index Chart</a>
<span class="h" style="top:1245.3px;letter-spacing:-0.112px">Related Dashboards</span>
<a style="top:1272px;letter-spacing:0.086px">Arable Land and Population</a>
<a style="top:1296px;letter-spacing:-0.000px">Genetically Modified Crops</a>
<a style="top:1320px;letter-spacing:0.105px">Food Losses and Waste</a>
<a style="top:1344px;letter-spacing:0.054px">Tunisa Food Security</a>
</div>
</body>
</html>
